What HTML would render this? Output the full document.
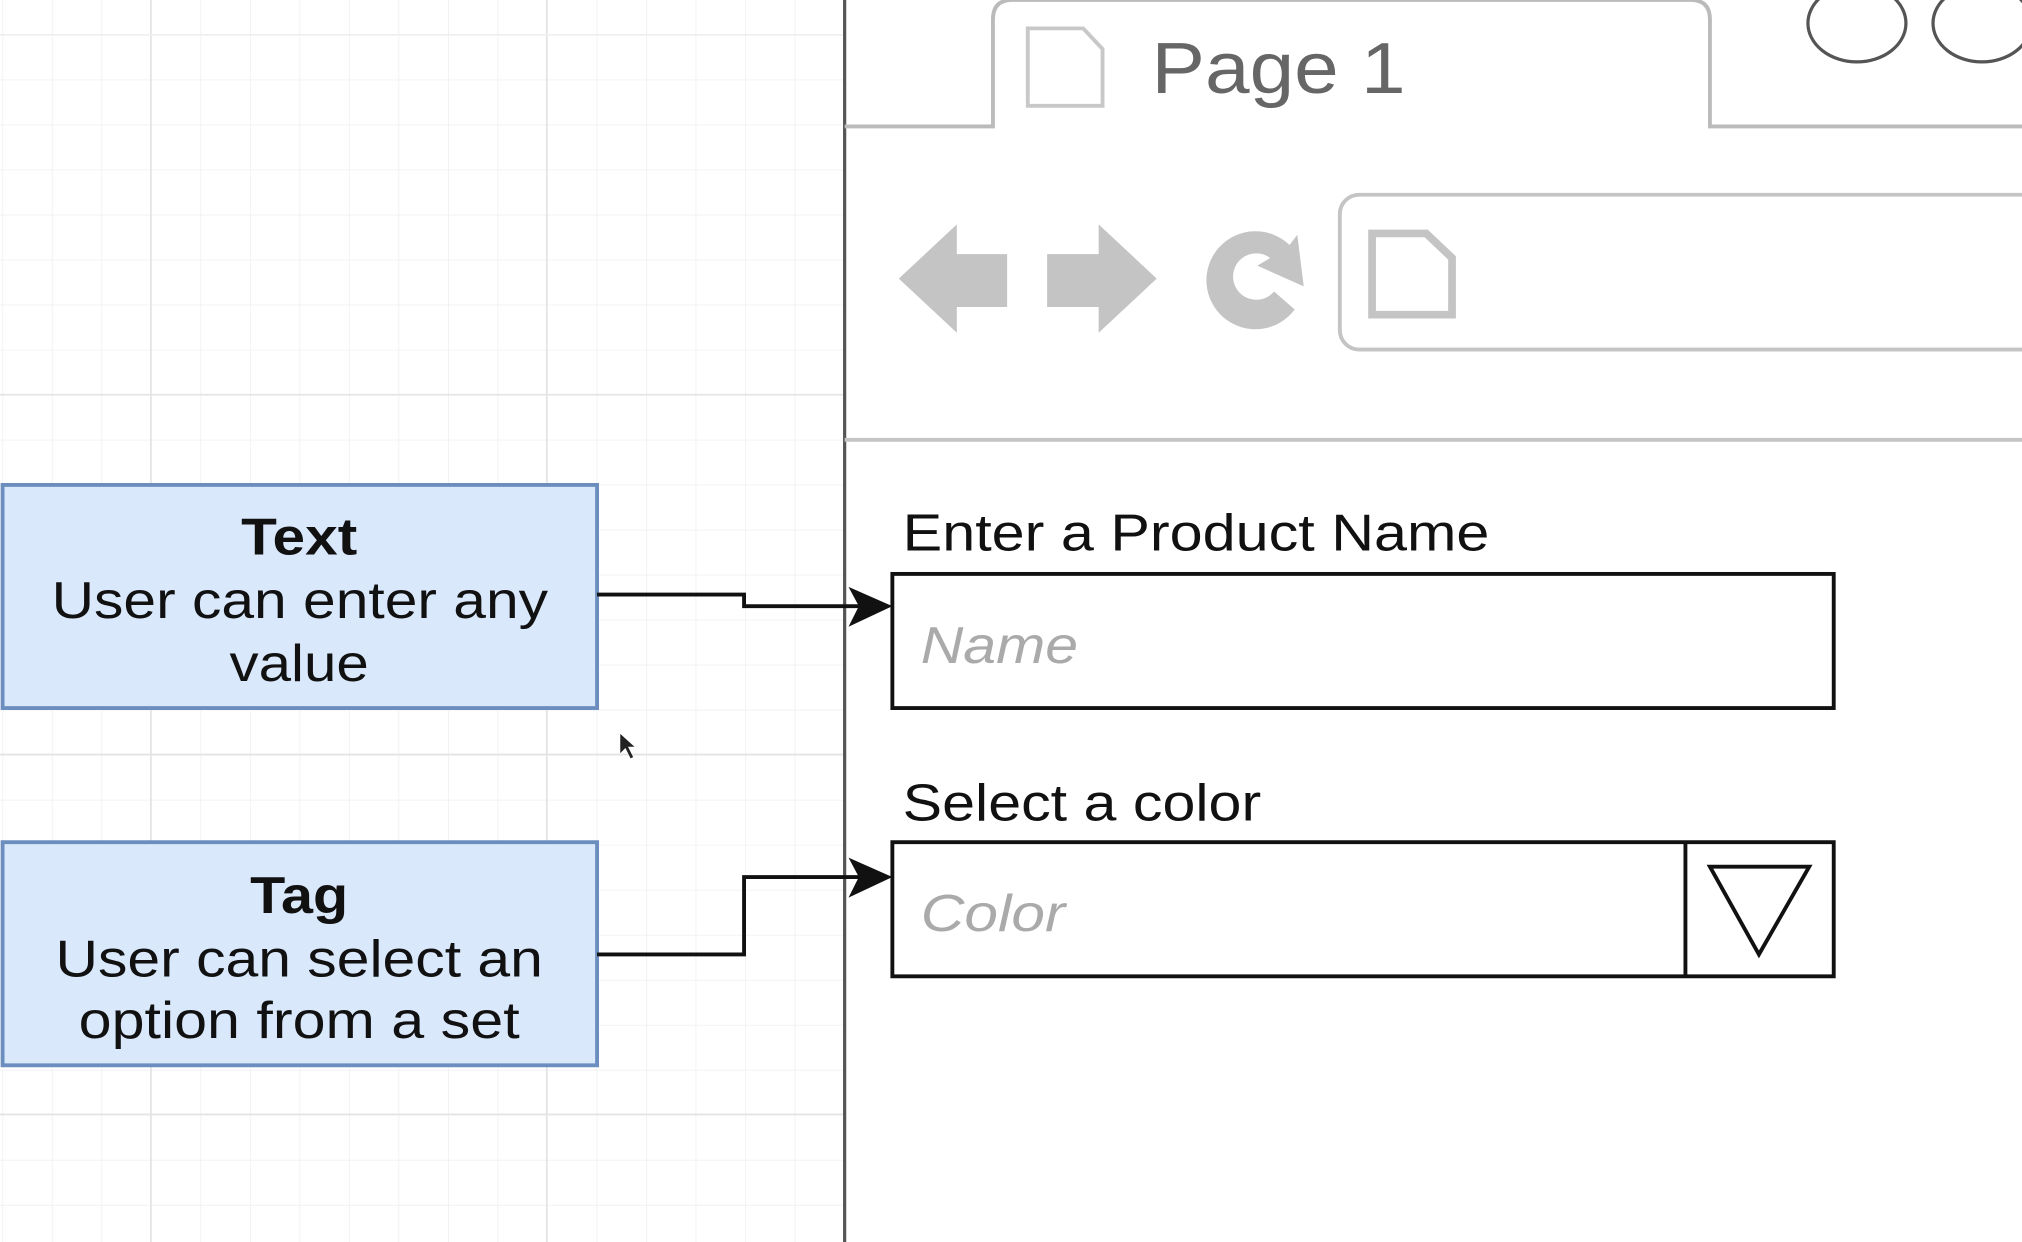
<!DOCTYPE html>
<html><head><meta charset="utf-8"><style>
html,body{margin:0;padding:0;background:#fff;}
svg{display:block;}
text{font-family:"Liberation Sans",sans-serif;}
</style></head><body>
<svg width="2022" height="1242" viewBox="0 0 1568 963" preserveAspectRatio="none" xmlns="http://www.w3.org/2000/svg">
<defs>
<pattern id="g" x="117" y="306" width="38.4" height="34.9" patternUnits="userSpaceOnUse">
<path d="M0 0H38.4M0 0V34.9" stroke="#efefef" stroke-width="1.2" fill="none"/>
</pattern>
</defs>
<rect x="0" y="0" width="655" height="963" fill="url(#g)"/>
<path d="M117 0V963M424 0V963" stroke="#e4e4e4" stroke-width="1.3"/>
<path d="M0 306H655M0 585H655M0 864H655" stroke="#e4e4e4" stroke-width="1.3"/>
<path d="M0 27H655" stroke="#efefef" stroke-width="1.2"/>

<rect x="655" y="0" width="913" height="963" fill="#fff"/>
<path d="M655 0V963" stroke="#555" stroke-width="2.5"/>
<path d="M655 98H770V15Q770 0 785 0H1311Q1326 0 1326 15V98H1568" fill="none" stroke="#bbb" stroke-width="3"/>
<path d="M797 22H840L855 38V82H797Z" fill="none" stroke="#c8c8c8" stroke-width="3"/>
<text x="893" y="72" font-size="56" fill="#666" textLength="197" lengthAdjust="spacingAndGlyphs">Page 1</text>
<ellipse cx="1440" cy="18" rx="38" ry="30" fill="none" stroke="#555" stroke-width="2.5"/>
<ellipse cx="1537" cy="18" rx="38" ry="30" fill="none" stroke="#555" stroke-width="2.5"/>
<path d="M697 216L742 174V197H781V238H742V258Z" fill="#c4c4c4"/>
<path d="M897 216L852 174V197H812V238H852V258Z" fill="#c4c4c4"/>
<path d="M1000 190A38 38 0 1 0 1004 240L988 226A18 18 0 1 1 985 200L975 206L1011 222L1006 182Z" fill="#c4c4c4"/>
<rect x="1039" y="151" width="560" height="120" rx="15" fill="none" stroke="#c4c4c4" stroke-width="3"/>
<path d="M1064 181H1106L1126 200V244H1064Z" fill="none" stroke="#c4c4c4" stroke-width="6"/>
<path d="M655 341H1568" stroke="#c4c4c4" stroke-width="3"/>

<text x="700" y="427" font-size="40" fill="#111" textLength="455" lengthAdjust="spacingAndGlyphs">Enter a Product Name</text>
<rect x="692" y="445" width="730" height="104" fill="#fff" stroke="#111" stroke-width="3"/>
<text x="714" y="514" font-size="40" font-style="italic" fill="#aaa" textLength="122" lengthAdjust="spacingAndGlyphs">Name</text>
<text x="700" y="636" font-size="40" fill="#111" textLength="278" lengthAdjust="spacingAndGlyphs">Select a color</text>
<rect x="692" y="653" width="730" height="104" fill="#fff" stroke="#111" stroke-width="3"/>
<path d="M1307 653V757" stroke="#111" stroke-width="3"/>
<path d="M1326 672H1403L1364 740Z" fill="none" stroke="#111" stroke-width="3"/>
<text x="714" y="722" font-size="40" font-style="italic" fill="#aaa" textLength="112" lengthAdjust="spacingAndGlyphs">Color</text>

<rect x="2" y="376" width="461" height="173" fill="#dae8fc" stroke="#6c8ebf" stroke-width="3"/>
<text x="187" y="430" font-size="40" font-weight="bold" fill="#111" textLength="90" lengthAdjust="spacingAndGlyphs">Text</text>
<text x="40" y="479" font-size="40" fill="#111" textLength="385" lengthAdjust="spacingAndGlyphs">User can enter any</text>
<text x="178" y="528" font-size="40" fill="#111" textLength="108" lengthAdjust="spacingAndGlyphs">value</text>
<rect x="2" y="653" width="461" height="173" fill="#dae8fc" stroke="#6c8ebf" stroke-width="3"/>
<text x="194" y="708" font-size="40" font-weight="bold" fill="#111" textLength="76" lengthAdjust="spacingAndGlyphs">Tag</text>
<text x="43" y="757" font-size="40" fill="#111" textLength="378" lengthAdjust="spacingAndGlyphs">User can select an</text>
<text x="61" y="805" font-size="40" fill="#111" textLength="342" lengthAdjust="spacingAndGlyphs">option from a set</text>

<path d="M463 461H577V470H668" fill="none" stroke="#111" stroke-width="3"/>
<path d="M692 470L658 455L666 470L658 486Z" fill="#111"/>
<path d="M463 740H577V680H668" fill="none" stroke="#111" stroke-width="3"/>
<path d="M692 680L658 665L666 680L658 696Z" fill="#111"/>
<path d="M481 569L481 584L485 580L489 588L491 587L487 579L492 579Z" fill="#222"/>
</svg>
</body></html>
